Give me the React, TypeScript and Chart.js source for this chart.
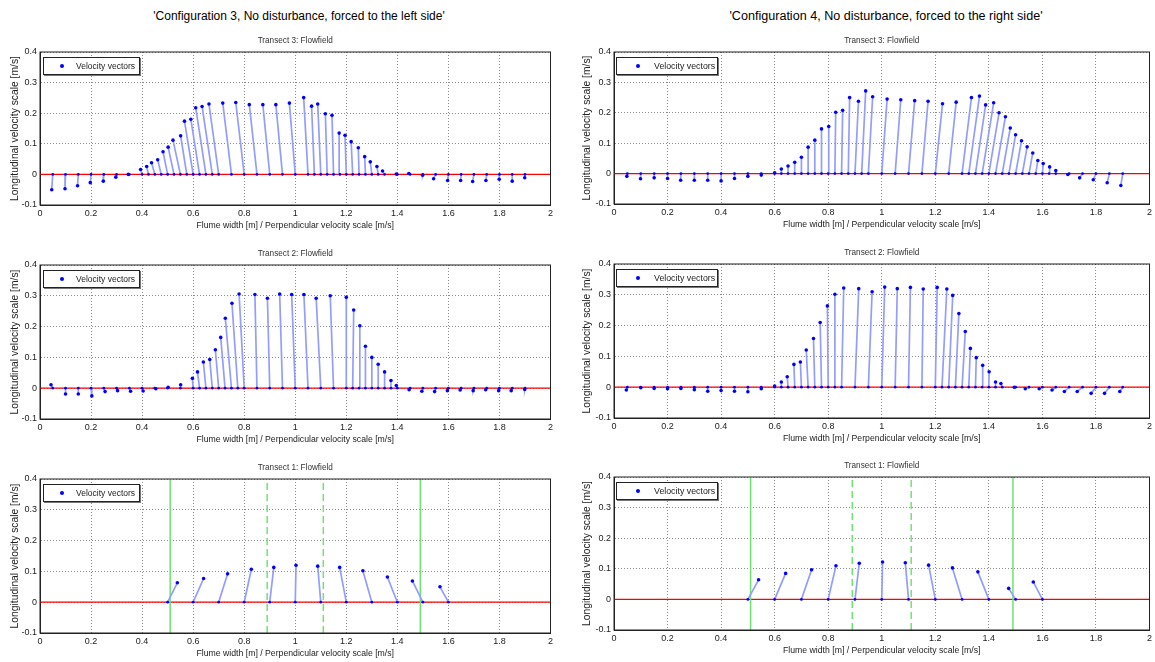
import React, { useEffect, useRef } from "react";
import { Chart, registerables } from "chart.js";

Chart.register(...registerables);

const FONT = '"Liberation Sans", Arial, Helvetica, sans-serif';

// ---------- axes / labels ----------
const X_TICKS = [0, 0.2, 0.4, 0.6, 0.8, 1, 1.2, 1.4, 1.6, 1.8, 2];
const Y_TICKS = [-0.1, 0, 0.1, 0.2, 0.3, 0.4];
const ZERO_LINE_X = [0, 2];
const WALL_X = [0.51, 1.49];
const GAP_X = [0.89, 1.11];

const LEGEND_LABEL = "Velocity vectors";
const X_TITLE = "Flume width [m] / Perpendicular velocity scale [m/s]";
const Y_TITLE = "Longitudinal velocity scale [m/s]";
const SUPTITLE_LEFT = "'Configuration 3, No disturbance, forced to the left side'";
const SUPTITLE_RIGHT = "'Configuration 4, No disturbance, forced to the right side'";

// ---------- Configuration 3, Transect 3 ----------
const C3_T3_X = [
  0.05, 0.1, 0.15, 0.2, 0.25, 0.3, 0.35, 0.4,
  0.425, 0.45, 0.475, 0.5, 0.525, 0.55, 0.575, 0.6, 0.625, 0.65, 0.675, 0.7,
  0.75, 0.8, 0.85, 0.9, 0.95, 1.0, 1.05,
  1.075, 1.1, 1.125, 1.15, 1.175, 1.2, 1.225, 1.25, 1.275, 1.3, 1.325, 1.35,
  1.4, 1.45, 1.5, 1.55, 1.6, 1.65, 1.7, 1.75, 1.8, 1.85, 1.9,
];
const C3_T3_U = [
  -0.004, -0.002, -0.003, -0.003, -0.002, -0.003, -0.004, -0.006,
  -0.007, -0.013, -0.014, -0.018, -0.023, -0.029, -0.024, -0.034, -0.034, -0.04, -0.04, -0.038,
  -0.034, -0.033, -0.03, -0.027, -0.026, -0.023, -0.017,
  -0.011, -0.012, -0.007, -0.006, -0.003, -0.005, -0.006, -0.003, -0.003, -0.006, -0.005, -0.008,
  -0.004, -0.005, -0.001, -0.008, -0.003, -0.002, -0.005, -0.003, -0.001, 0, -0.001,
];
const C3_T3_V = [
  -0.05, -0.047, -0.037, -0.027, -0.022, -0.009, 0.0, 0.016,
  0.026, 0.038, 0.048, 0.074, 0.089, 0.112, 0.126, 0.174, 0.18, 0.218, 0.222, 0.23,
  0.233, 0.235, 0.228, 0.228, 0.228, 0.233, 0.251,
  0.223, 0.23, 0.198, 0.193, 0.135, 0.128, 0.107, 0.087, 0.058, 0.041, 0.026, 0.011,
  0.001, 0.003, -0.003, -0.014, -0.02, -0.02, -0.023, -0.02, -0.016, -0.022, -0.011,
];

// ---------- Configuration 4, Transect 3 ----------
const C4_T3_X = [
  0.05, 0.1, 0.15, 0.2, 0.25, 0.3, 0.35, 0.4, 0.45, 0.5, 0.55, 0.6,
  0.625, 0.65, 0.675, 0.7, 0.725, 0.75, 0.775, 0.8, 0.825, 0.85, 0.875, 0.9, 0.925, 0.95,
  1.0, 1.05, 1.1, 1.15, 1.2, 1.25, 1.3,
  1.325, 1.35, 1.375, 1.4, 1.425, 1.45, 1.475, 1.5, 1.525, 1.55, 1.575, 1.6, 1.625, 1.65,
  1.7, 1.75, 1.8, 1.85, 1.9,
];
const C4_T3_U = [
  -0.002, -0.001, 0, 0, -0.001, 0, 0, 0, 0, 0, 0, 0,
  0, 0, 0, 0, 0, 0, 0, 0.002, 0.003, 0.004, 0.005, 0.013, 0.015, 0.016,
  0.02, 0.021, 0.023, 0.023, 0.027, 0.028, 0.035,
  0.04, 0.038, 0.043, 0.038, 0.037, 0.03, 0.025, 0.022, 0.018, 0.014, 0.008, 0.003, 0.002, 0,
  -0.005, -0.011, -0.01, -0.008, -0.007,
];
const C4_T3_V = [
  -0.009, -0.017, -0.014, -0.016, -0.022, -0.022, -0.022, -0.024, -0.016, -0.009, -0.005, 0.003,
  0.015, 0.025, 0.037, 0.054, 0.087, 0.11, 0.147, 0.155, 0.202, 0.208, 0.25, 0.238, 0.272, 0.253,
  0.245, 0.243, 0.24, 0.238, 0.23, 0.235, 0.25,
  0.255, 0.226, 0.233, 0.2, 0.187, 0.15, 0.128, 0.108, 0.088, 0.068, 0.043, 0.033, 0.022, 0.01,
  -0.003, -0.014, -0.02, -0.03, -0.039,
];

// ---------- Configuration 3, Transect 2 ----------
const C3_T2_X = [
  0.05, 0.1, 0.15, 0.2, 0.25, 0.3, 0.35, 0.4, 0.45, 0.5, 0.55, 0.6,
  0.625, 0.65, 0.675, 0.7, 0.725, 0.75, 0.775, 0.8,
  0.85, 0.9, 0.95, 1.0, 1.05, 1.1, 1.15, 1.2,
  1.225, 1.25, 1.275, 1.3, 1.325, 1.35, 1.375, 1.4,
  1.45, 1.5, 1.55, 1.6, 1.65, 1.7, 1.75, 1.8, 1.85, 1.9,
];
const C3_T2_U = [
  -0.007, 0, 0, 0.003, 0.005, 0.004, 0.005, 0.004, 0.004, 0.002, 0.001, -0.003,
  -0.008, -0.01, -0.01, -0.013, -0.017, -0.024, -0.023, -0.02,
  -0.008, -0.009, -0.011, -0.014, -0.016, -0.018, -0.013, 0,
  0.004, 0.003, 0, 0, 0, 0, 0, -0.004,
  -0.004, -0.004, -0.004, -0.004, -0.004, -0.003, -0.004, -0.003, -0.004, -0.001,
];
const C3_T2_V = [
  0.011, -0.019, -0.019, -0.025, -0.011, -0.008, -0.01, -0.009, -0.002, 0.003, 0.011, 0.032,
  0.053, 0.085, 0.093, 0.125, 0.165, 0.227, 0.276, 0.306,
  0.304, 0.292, 0.306, 0.304, 0.304, 0.292, 0.3, 0.295,
  0.254, 0.203, 0.136, 0.1, 0.078, 0.053, 0.025, 0.009,
  -0.005, -0.01, -0.011, -0.008, -0.006, -0.008, -0.005, -0.008, -0.008, -0.004,
];

// ---------- Configuration 4, Transect 2 ----------
const C4_T2_X = [
  0.05, 0.1, 0.15, 0.2, 0.25, 0.3, 0.35, 0.4, 0.45, 0.5, 0.55, 0.6,
  0.625, 0.65, 0.675, 0.7, 0.725, 0.75, 0.775, 0.8, 0.825, 0.85,
  0.9, 0.95, 1.0, 1.05, 1.1, 1.15, 1.2,
  1.225, 1.25, 1.275, 1.3, 1.325, 1.35, 1.375, 1.4, 1.425, 1.45,
  1.5, 1.55, 1.6, 1.65, 1.7, 1.75, 1.8, 1.85, 1.9,
];
const C4_T2_U = [
  -0.004, 0, 0, 0, 0, 0, 0, 0, 0, 0, 0, 0,
  0, -0.003, -0.003, -0.004, -0.007, -0.005, -0.005, -0.003, 0, 0.008,
  0.014, 0.014, 0.011, 0.008, 0.007, 0.005, 0.007,
  0.018, 0.015, 0.013, 0.012, 0.006, 0.003, 0.002, 0.001, 0, -0.005,
  -0.005, -0.014, -0.012, -0.014, -0.018, -0.02, -0.018, -0.018, -0.011,
];
const C4_T2_V = [
  -0.009, -0.002, -0.004, -0.005, -0.004, -0.008, -0.013, -0.011, -0.013, -0.015, -0.005, 0.004,
  0.017, 0.034, 0.074, 0.082, 0.121, 0.158, 0.21, 0.264, 0.302, 0.322,
  0.32, 0.31, 0.325, 0.32, 0.324, 0.319, 0.324,
  0.319, 0.298, 0.239, 0.181, 0.126, 0.096, 0.071, 0.05, 0.017, 0.012,
  0, -0.005, -0.005, -0.009, -0.014, -0.014, -0.02, -0.02, -0.014,
];

// ---------- Configuration 3, Transect 1 ----------
const C3_T1_X = [0.5, 0.6, 0.7, 0.8, 0.9, 1.0, 1.1, 1.2, 1.3, 1.4, 1.5, 1.6];
const C3_T1_U = [0.038, 0.041, 0.035, 0.028, 0.016, 0.003, -0.012, -0.026, -0.035, -0.039, -0.041, -0.033];
const C3_T1_V = [0.063, 0.077, 0.092, 0.107, 0.113, 0.12, 0.117, 0.113, 0.102, 0.082, 0.069, 0.05];

// ---------- Configuration 4, Transect 1 ----------
const C4_T1_X = [0.5, 0.6, 0.7, 0.8, 0.9, 1.0, 1.1, 1.2, 1.3, 1.4, 1.5, 1.6];
const C4_T1_U = [0.04, 0.041, 0.038, 0.029, 0.016, 0.003, -0.012, -0.025, -0.036, -0.041, -0.026, -0.034];
const C4_T1_V = [0.064, 0.085, 0.097, 0.11, 0.118, 0.122, 0.12, 0.112, 0.103, 0.09, 0.036, 0.057];

// ---------- layout ----------
const YW = 36; // y-axis block width
const TH = 20; // subplot title block height
const XH = 30; // x-axis block height
const RP = 5; // right padding

type Rect = { l: number; t: number; r: number; b: number };
type PanelDef = {
  id: string;
  title: string;
  xs: number[];
  us: number[];
  vs: number[];
  walls: boolean;
  rect: Rect;
  col: number;
};

const PANELS: PanelDef[] = [
  { id: "c3t3", title: "Transect 3: Flowfield", xs: C3_T3_X, us: C3_T3_U, vs: C3_T3_V, walls: false, rect: { l: 40, t: 52, r: 551, b: 205 }, col: 0 },
  { id: "c3t2", title: "Transect 2: Flowfield", xs: C3_T2_X, us: C3_T2_U, vs: C3_T2_V, walls: false, rect: { l: 40, t: 265, r: 551, b: 419 }, col: 0 },
  { id: "c3t1", title: "Transect 1: Flowfield", xs: C3_T1_X, us: C3_T1_U, vs: C3_T1_V, walls: true, rect: { l: 40, t: 479, r: 551, b: 633 }, col: 0 },
  { id: "c4t3", title: "Transect 3: Flowfield", xs: C4_T3_X, us: C4_T3_U, vs: C4_T3_V, walls: false, rect: { l: 614, t: 52, r: 1150, b: 204 }, col: 1 },
  { id: "c4t2", title: "Transect 2: Flowfield", xs: C4_T2_X, us: C4_T2_U, vs: C4_T2_V, walls: false, rect: { l: 614, t: 264, r: 1150, b: 418 }, col: 1 },
  { id: "c4t1", title: "Transect 1: Flowfield", xs: C4_T1_X, us: C4_T1_U, vs: C4_T1_V, walls: true, rect: { l: 614, t: 477, r: 1150, b: 630 }, col: 1 },
];

const fmt = (v: number) => String(Math.round(v * 10) / 10);

const boxPlugin = {
  id: "axesBox",
  afterDraw(chart: any) {
    const { ctx, chartArea } = chart;
    const { left, top, right, bottom } = chartArea;
    ctx.save();
    ctx.strokeStyle = "#222";
    ctx.lineWidth = 1;
    ctx.strokeRect(left, top, right - left, bottom - top);
    ctx.restore();
  },
};

function FlowPanel({ title, xs, us, vs, walls, rect, col }: PanelDef) {
  const ref = useRef<HTMLCanvasElement | null>(null);
  const w = YW + (rect.r - rect.l) + RP;
  const h = TH + (rect.b - rect.t) + XH;

  useEffect(() => {
    const canvas = ref.current;
    if (!canvas) return;
    const yMin = Y_TICKS[0];
    const yMax = Y_TICKS[Y_TICKS.length - 1];

    const tips = xs.map((x0, i) => ({ x: x0 + us[i], y: vs[i] }));
    const bases = xs.map((x0) => ({ x: x0, y: 0 }));
    const vectors: any[] = [];
    xs.forEach((x0, i) => {
      vectors.push({ x: x0, y: 0 }, { x: x0 + us[i], y: vs[i] }, { x: x0, y: null });
    });
    const vline = (arr: number[]) => {
      const d: any[] = [];
      arr.forEach((x) => d.push({ x, y: yMin }, { x, y: yMax }, { x, y: null }));
      return d;
    };

    const datasets: any[] = [
      { label: LEGEND_LABEL, data: tips, showLine: false, pointRadius: 1.8, pointBackgroundColor: "#0000ff", pointBorderWidth: 0, pointHoverRadius: 0, order: 1 },
      { label: "base", data: bases, showLine: false, pointRadius: 1.4, pointBackgroundColor: "#0000ff", pointBorderWidth: 0, pointHoverRadius: 0, order: 2 },
      { label: "vectors", data: vectors, showLine: true, spanGaps: false, borderColor: "#939dff", borderWidth: 1.7, pointRadius: 0, pointHoverRadius: 0, order: 3 },
    ];
    if (walls) {
      datasets.push({ label: "walls", data: vline(WALL_X), showLine: true, spanGaps: false, borderColor: "#6fe36f", borderWidth: 1.5, pointRadius: 0, pointHoverRadius: 0, order: 4 });
      datasets.push({ label: "gap", data: vline(GAP_X), showLine: true, spanGaps: false, borderColor: "#6fe36f", borderWidth: 1.5, borderDash: [7, 4], pointRadius: 0, pointHoverRadius: 0, order: 4 });
    }
    datasets.push({ label: "zero", data: ZERO_LINE_X.map((x) => ({ x, y: 0 })), showLine: true, borderColor: "#ff0000", borderWidth: 1.3, pointRadius: 0, pointHoverRadius: 0, order: 6 });

    const chart = new Chart(canvas, {
      type: "scatter",
      data: { datasets },
      options: {
        responsive: false,
        animation: false,
        events: [],
        layout: { padding: { left: 0, right: RP, top: 0, bottom: 0 } },
        plugins: {
          legend: { display: false },
          tooltip: { enabled: false },
          title: {
            display: true,
            text: title,
            fullSize: false,
            color: "#333",
            font: { family: FONT, size: 8.2, weight: "normal" },
            padding: { top: 4.2, bottom: 5.96 },
          },
        },
        scales: {
          x: {
            type: "linear",
            min: X_TICKS[0],
            max: X_TICKS[X_TICKS.length - 1],
            afterBuildTicks: (s: any) => {
              s.ticks = X_TICKS.map((value) => ({ value }));
            },
            afterFit: (s: any) => {
              s.height = XH;
            },
            ticks: {
              callback: (v: any) => fmt(Number(v)),
              color: "#222",
              font: { family: FONT, size: 9 },
              padding: 3,
              maxRotation: 0,
              minRotation: 0,
              autoSkip: false,
            },
            grid: { color: "rgba(0,0,0,0.45)", lineWidth: 1, drawTicks: false },
            border: { display: true, color: "#222", width: 1, dash: [1, 2] },
            title: {
              display: true,
              text: X_TITLE,
              color: "#222",
              font: { family: FONT, size: 8.7 },
              padding: { top: 0, bottom: 4.0 },
            },
          },
          y: {
            type: "linear",
            min: yMin,
            max: yMax,
            afterBuildTicks: (s: any) => {
              s.ticks = Y_TICKS.map((value) => ({ value }));
            },
            afterFit: (s: any) => {
              s.width = YW;
            },
            ticks: {
              callback: (v: any) => fmt(Number(v)),
              color: "#222",
              font: { family: FONT, size: 9 },
              padding: 3,
              autoSkip: false,
            },
            grid: { color: "rgba(0,0,0,0.45)", lineWidth: 1, drawTicks: false },
            border: { display: true, color: "#222", width: 1, dash: [1, 2] },
            title: {
              display: true,
              text: Y_TITLE,
              color: "#222",
              font: { family: FONT, size: 10.3 },
              padding: { top: col ? 2.8 : 4.8, bottom: 0 },
            },
          },
        },
      } as any,
      plugins: [boxPlugin],
    });
    return () => chart.destroy();
  }, []);

  const legW = col ? 102 : 97;
  const legL = rect.l + (col ? 2 : 2.5);
  const dotX = col ? 21 : 18;
  const textX = col ? 37 : 32.5;

  return (
    <>
      <canvas
        ref={ref}
        width={w}
        height={h}
        style={{ position: "absolute", left: rect.l - YW, top: rect.t - TH, width: w, height: h }}
      />
      <div
        style={{
          position: "absolute",
          left: legL,
          top: rect.t + 5,
          width: legW,
          height: 18,
          boxSizing: "border-box",
          border: "1px solid #222",
          background: "#fff",
          boxShadow: "1px 1px 0 #777",
        }}
      >
        <div
          style={{
            position: "absolute",
            left: dotX - 2,
            top: 6,
            width: 4,
            height: 4,
            borderRadius: "50%",
            background: "#0000ff",
          }}
        />
        <div
          style={{
            position: "absolute",
            left: textX,
            top: 0,
            height: 16,
            lineHeight: "16px",
            fontSize: col ? 8.8 : 8.5,
            fontFamily: FONT,
            color: "#222",
            whiteSpace: "nowrap",
          }}
        >
          {LEGEND_LABEL}
        </div>
      </div>
    </>
  );
}

export default function App() {
  return (
    <div
      style={{
        position: "absolute",
        left: 0,
        top: 0,
        width: 1155,
        height: 662,
        overflow: "hidden",
        background: "#fff",
        fontFamily: FONT,
      }}
    >
      <div
        style={{
          position: "absolute",
          left: 299,
          top: 16.4,
          transform: "translate(-50%, -50%)",
          fontSize: 12,
          color: "#000",
          whiteSpace: "nowrap",
        }}
      >
        {SUPTITLE_LEFT}
      </div>
      <div
        style={{
          position: "absolute",
          left: 886,
          top: 16.4,
          transform: "translate(-50%, -50%) scaleX(1.048)",
          fontSize: 12,
          color: "#000",
          whiteSpace: "nowrap",
        }}
      >
        {SUPTITLE_RIGHT}
      </div>
      {PANELS.map((p) => (
        <FlowPanel key={p.id} {...p} />
      ))}
    </div>
  );
}
